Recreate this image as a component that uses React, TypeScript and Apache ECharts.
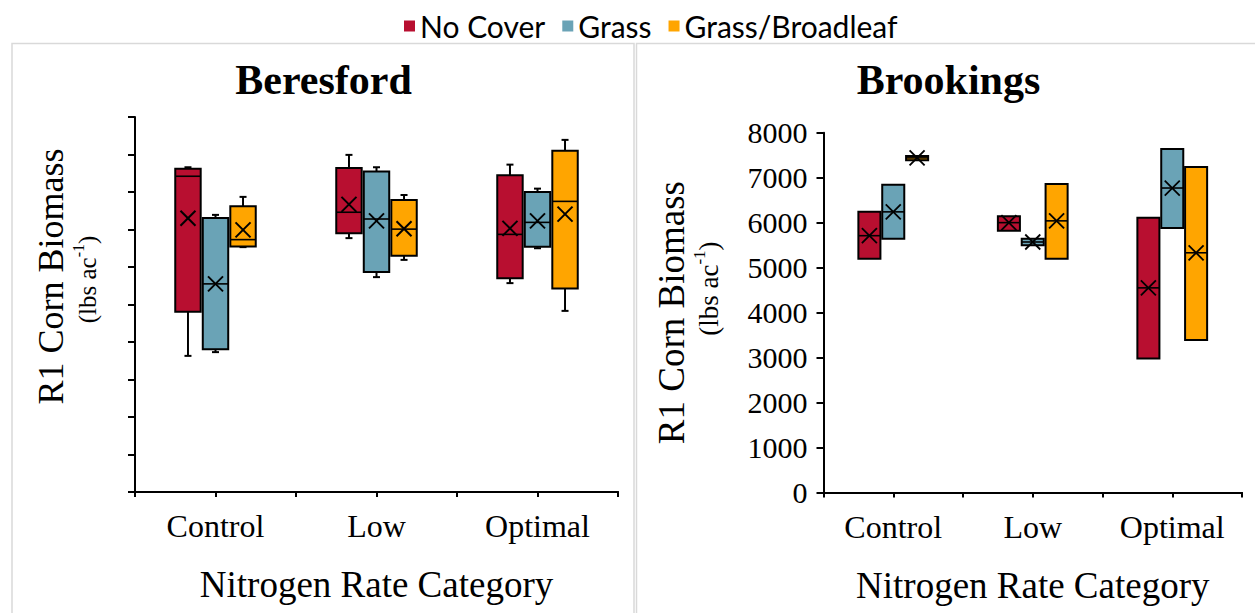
import React, { useEffect, useRef } from 'react';
import * as echarts from 'echarts';

const categories = ['Control', 'Low', 'Optimal'];
const seriesNames = ['No Cover', 'Grass', 'Grass/Broadleaf'];
const seriesColors = ['#B80F30', '#6AA3B6', '#FFA500'];

// each row: [min, Q1, median, Q3, max, mean] (lbs ac-1), rows follow categories
const beresfordNoCover = [
  [3630, 4810, 8420, 8620, 8660, 7300],
  [6770, 6900, 7460, 8640, 8990, 7670],
  [5570, 5700, 6870, 8450, 8730, 7030],
];
const beresfordGrass = [
  [3730, 3810, 5550, 7310, 7390, 5550],
  [5730, 5870, 7280, 8550, 8660, 7230],
  [6500, 6540, 7190, 8000, 8090, 7230],
];
const beresfordGrassBroadleaf = [
  [6530, 6550, 6730, 7620, 7870, 6990],
  [6190, 6300, 7010, 7790, 7920, 7020],
  [4830, 5430, 7750, 9100, 9390, 7410],
];
const brookingsNoCover = [
  [5200, 5200, 5710, 6240, 6240, 5710],
  [5820, 5820, 6000, 6140, 6140, 6000],
  [2980, 2980, 4550, 6110, 6110, 4550],
];
const brookingsGrass = [
  [5640, 5640, 6240, 6840, 6840, 6240],
  [5500, 5500, 5570, 5640, 5640, 5570],
  [5880, 5880, 6770, 7640, 7640, 6770],
];
const brookingsGrassBroadleaf = [
  [7390, 7390, 7440, 7480, 7480, 7440],
  [5200, 5200, 6040, 6860, 6860, 6040],
  [3390, 3390, 5330, 7240, 7240, 5330],
];

const beresfordAxis = { min: 0, max: 10000, interval: 1000 };
const brookingsAxis = { min: 0, max: 8000, interval: 1000 };
const tickSlots = ['a', 'b', 'c', 'd', 'e', 'f'];
const yTitleText = 'R1 Corn Biomass';
const yUnitText = '{a|(lbs ac}{s|-1}{a|)}';

const SERIF = 'Liberation Serif, serif';
const OFFSETS = [-0.171, 0, 0.171];
const BOX_FRAC = 0.158;

function makeSeries(name: string, color: string, rows: number[][], panel: number, k: number) {
  const lw = 2;
  return {
    type: 'custom',
    name,
    xAxisIndex: panel === 0 ? 0 : 2,
    yAxisIndex: panel === 0 ? 0 : 2,
    itemStyle: { color },
    encode: { x: 0, y: [1, 2, 3, 4, 5, 6] },
    data: rows.map((r, i) => [i, ...r]),
    z: 5,
    renderItem: (params: any, api: any) => {
      const cat = api.value(0);
      const band = api.size([1, 0])[0];
      const cx = api.coord([cat, 0])[0] + OFFSETS[k] * band;
      const w = BOX_FRAC * band;
      const y = (v: number) => api.coord([cat, v])[1];
      const yMin = y(api.value(1));
      const yQ1 = y(api.value(2));
      const yMed = y(api.value(3));
      const yQ3 = y(api.value(4));
      const yMax = y(api.value(5));
      const yMean = y(api.value(6));
      const ls = { stroke: '#000', lineWidth: lw };
      const cap = 3.5;
      const children: any[] = [];
      if (yQ3 - yMax > 0.5) {
        children.push({ type: 'line', shape: { x1: cx, y1: yMax, x2: cx, y2: yQ3 }, style: ls });
        children.push({ type: 'line', shape: { x1: cx - cap, y1: yMax, x2: cx + cap, y2: yMax }, style: ls });
      }
      if (yMin - yQ1 > 0.5) {
        children.push({ type: 'line', shape: { x1: cx, y1: yQ1, x2: cx, y2: yMin }, style: ls });
        children.push({ type: 'line', shape: { x1: cx - cap, y1: yMin, x2: cx + cap, y2: yMin }, style: ls });
      }
      children.push({
        type: 'rect',
        shape: { x: cx - w / 2, y: yQ3, width: w, height: yQ1 - yQ3 },
        style: { fill: color, stroke: '#000', lineWidth: lw },
      });
      children.push({
        type: 'line',
        shape: { x1: cx - w / 2, y1: yMed, x2: cx + w / 2, y2: yMed },
        style: { stroke: '#000', lineWidth: 1.6 },
      });
      const m = 7.5;
      const xw = panel === 0 ? 2 : 1.8;
      children.push({ type: 'line', shape: { x1: cx - m, y1: yMean - m, x2: cx + m, y2: yMean + m }, style: { stroke: '#000', lineWidth: xw } });
      children.push({ type: 'line', shape: { x1: cx - m, y1: yMean + m, x2: cx + m, y2: yMean - m }, style: { stroke: '#000', lineWidth: xw } });
      return { type: 'group', children };
    },
  };
}

function xMain(grid: number) {
  return {
    type: 'category',
    gridIndex: grid,
    data: categories,
    position: 'bottom',
    axisLine: { show: true, lineStyle: { color: '#000', width: 2 } },
    axisTick: { show: false },
    axisLabel: { fontFamily: SERIF, fontSize: 32, color: '#000', margin: 18 },
    name: 'Nitrogen Rate Category',
    nameLocation: 'middle',
    nameGap: 74,
    nameTextStyle: { fontFamily: SERIF, fontSize: 37, color: '#000' },
    splitLine: { show: false },
  };
}

function xTicks(grid: number) {
  return {
    type: 'category',
    gridIndex: grid,
    data: tickSlots,
    position: 'bottom',
    axisLine: { show: true, lineStyle: { color: '#000', width: 2 } },
    axisTick: { show: true, length: 5, lineStyle: { color: '#000', width: 2 } },
    axisLabel: { show: false },
    splitLine: { show: false },
  };
}

function yUnitAxis(grid: number, range: any, size: number, gap: number, shift: number) {
  const sup = Math.round(size * 0.62);
  return {
    type: 'value',
    gridIndex: grid,
    ...range,
    position: 'left',
    axisLine: { show: false },
    axisTick: { show: false },
    axisLabel: { show: false },
    splitLine: { show: false },
    name: yUnitText,
    nameLocation: 'middle',
    nameRotate: 90,
    nameGap: gap,
    nameTextStyle: {
      fontFamily: SERIF,
      fontSize: size,
      color: '#000',
      padding: [0, 0, 0, shift],
      rich: {
        a: { fontFamily: SERIF, fontSize: size, lineHeight: size + 5, verticalAlign: 'bottom', color: '#000' },
        s: { fontFamily: SERIF, fontSize: sup, lineHeight: sup + 2, verticalAlign: 'top', color: '#000' },
      },
    },
  };
}

export default function App() {
  const ref = useRef<HTMLDivElement>(null);
  useEffect(() => {
    const chart = echarts.init(ref.current!, null, { renderer: 'svg' });
    const option: any = {
      animation: false,
      backgroundColor: '#fff',
      legend: {
        data: seriesNames,
        left: 404,
        top: 11,
        padding: 0,
        itemWidth: 11,
        itemHeight: 11,
        itemGap: 17,
        icon: 'rect',
        textStyle: { fontFamily: 'Lato, sans-serif', fontSize: 30, color: '#000' },
      },
      grid: [
        { left: 135, right: 637, top: 117, bottom: 121 },
        { left: 823.5, right: 13, top: 132.7, bottom: 120.5 },
      ],
      xAxis: [xMain(0), xTicks(0), xMain(1), xTicks(1)],
      yAxis: [
        {
          type: 'value',
          gridIndex: 0,
          ...beresfordAxis,
          axisLine: { show: true, lineStyle: { color: '#000', width: 2 } },
          axisTick: { show: true, length: 7, lineStyle: { color: '#000', width: 2 } },
          axisLabel: { show: false },
          splitLine: { show: false },
          name: yTitleText,
          nameLocation: 'middle',
          nameRotate: 90,
          nameGap: 66,
          nameTextStyle: { fontFamily: SERIF, fontSize: 36, color: '#000', padding: [0, 0, 0, 56] },
        },
        yUnitAxis(0, beresfordAxis, 25, 35, 50),
        {
          type: 'value',
          gridIndex: 1,
          ...brookingsAxis,
          axisLine: { show: true, lineStyle: { color: '#000', width: 2 } },
          axisTick: { show: true, length: 7, lineStyle: { color: '#000', width: 2 } },
          axisLabel: {
            fontFamily: SERIF, fontSize: 30, color: '#000', margin: 16,
            formatter: (v: number) => String(v),
          },
          splitLine: { show: false },
          name: yTitleText,
          nameLocation: 'middle',
          nameRotate: 90,
          nameGap: 134,
          nameTextStyle: { fontFamily: SERIF, fontSize: 37, color: '#000' },
        },
        yUnitAxis(1, brookingsAxis, 27, 101, 48),
      ],
      graphic: [
        { type: 'rect', z: -10, shape: { x: 12, y: 43.5, width: 622, height: 620 }, style: { fill: 'none', stroke: '#D9D9D9', lineWidth: 1.5 } },
        { type: 'rect', z: -10, shape: { x: 636.5, y: 43.5, width: 700, height: 620 }, style: { fill: 'none', stroke: '#D9D9D9', lineWidth: 1.5 } },
        { type: 'text', x: 323.5, y: 80, style: { text: 'Beresford', fontFamily: SERIF, fontSize: 42, fontWeight: 'bold', fill: '#000', align: 'center', verticalAlign: 'middle' } },
        { type: 'text', x: 948.5, y: 80, style: { text: 'Brookings', fontFamily: SERIF, fontSize: 42, fontWeight: 'bold', fill: '#000', align: 'center', verticalAlign: 'middle' } },
      ],
      series: [
        makeSeries(seriesNames[0], seriesColors[0], beresfordNoCover, 0, 0),
        makeSeries(seriesNames[1], seriesColors[1], beresfordGrass, 0, 1),
        makeSeries(seriesNames[2], seriesColors[2], beresfordGrassBroadleaf, 0, 2),
        makeSeries(seriesNames[0], seriesColors[0], brookingsNoCover, 1, 0),
        makeSeries(seriesNames[1], seriesColors[1], brookingsGrass, 1, 1),
        makeSeries(seriesNames[2], seriesColors[2], brookingsGrassBroadleaf, 1, 2),
      ],
    };
    chart.setOption(option);
    return () => chart.dispose();
  }, []);
  return (
    <div
      ref={ref}
      style={{ position: 'fixed', left: 0, top: 0, width: 1255, height: 613, background: '#fff' }}
    />
  );
}
